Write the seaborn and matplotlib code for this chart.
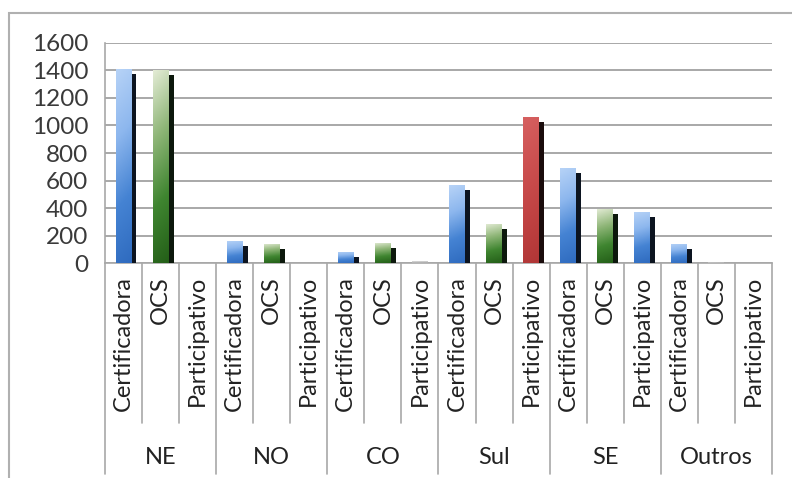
import numpy as np
import pandas as pd
import matplotlib
matplotlib.use("Agg")
import matplotlib.pyplot as plt
import seaborn as sns
from matplotlib import patheffects as pe
from matplotlib.colors import LinearSegmentedColormap
from matplotlib.patches import Rectangle
from matplotlib.transforms import blended_transform_factory

# Número de unidades por região e tipo de mecanismo de controle
regions = ["NE", "NO", "CO", "Sul", "SE", "Outros"]
types = ["Certificadora", "OCS", "Participativo"]
certificadora = [1410, 165, 84, 565, 693, 138]
ocs = [1400, 140, 150, 288, 397, 8]
participativo = [0, 0, 15, 1060, 372, 0]
yticks = [0, 200, 400, 600, 800, 1000, 1200, 1400, 1600]
# colour of each bar, region by region (Certificadora, OCS, Participativo)
bar_shades = ["azul", "verde", "cinza",
              "azul", "verde", "cinza",
              "azul", "verde", "cinza",
              "azul", "verde", "vermelho",
              "azul", "verde", "azul",
              "azul", "cinza", "cinza"]

rows = []
for i, reg in enumerate(regions):
    for t, vals in zip(types, [certificadora, ocs, participativo]):
        rows.append({"slot": f"{reg}-{t}", "regiao": reg, "tipo": t, "valor": vals[i]})
df = pd.DataFrame(rows)
df["cor"] = bar_shades

sns.set_theme(style="white")
plt.rcParams["font.family"] = ["Lato", "DejaVu Sans"]

W, H = 792, 478
fig = plt.figure(figsize=(W / 100, H / 100), dpi=100)
ax_left, ax_right, ax_bottom, ax_top = 105, 772, 263.3, 42.7
ax = fig.add_axes([ax_left / W, 1 - ax_bottom / H,
                   (ax_right - ax_left) / W, (ax_bottom - ax_top) / H])

base = {"azul": "#4a86d6", "verde": "#3c7f2c", "vermelho": "#c0403f", "cinza": "#c8c8c8"}
sns.barplot(data=df, x="slot", y="valor", hue="cor", order=list(df["slot"]),
            palette=base, dodge=False, width=0.43, ax=ax, legend=False,
            linewidth=0, saturation=1, zorder=3)

# vertical gradient for each colour
gradients = {
    "azul": LinearSegmentedColormap.from_list(
        "azul", ["#2f6bbf", "#4583d3", "#8db7ee", "#b7d3f7"]),
    "verde": LinearSegmentedColormap.from_list(
        "verde", ["#245f18", "#3f8530", "#8fb678", "#e4ecd6"]),
    "vermelho": LinearSegmentedColormap.from_list(
        "vermelho", ["#b03636", "#c04242", "#cc5050", "#d66060"]),
    "cinza": LinearSegmentedColormap.from_list(
        "cinza", ["#a0a0a0", "#c0c0c0", "#dcdcdc", "#ececec"]),
}
shadow_colors = {"azul": "#0c1420", "verde": "#0c180c", "vermelho": "#1a0c0c",
                 "cinza": "#9a9a9a"}

for bar in ax.patches:
    h = bar.get_height()
    if h <= 0:
        continue
    idx = int(round(bar.get_x() + bar.get_width() / 2))
    cor = df.iloc[idx]["cor"]
    bar.set_path_effects([
        pe.SimplePatchShadow(offset=(3.6, -3.6), shadow_rgbFace=shadow_colors[cor],
                             alpha=1.0),
        pe.Normal()])
    x0 = bar.get_x()
    x1 = x0 + bar.get_width()
    v = np.linspace(0, 1, 128)[:, None]
    u = np.linspace(0, 1, 16)[None, :]
    grad = np.clip(v * 0.92 + (1 - u) * 0.08, 0, 1)
    im = ax.imshow(grad[::-1], cmap=gradients[cor], vmin=0, vmax=1,
                   extent=(x0, x1, 0, h), aspect="auto", zorder=3.5,
                   interpolation="bilinear")
    im.set_clip_path(bar)

ax.set_xlim(-0.5, len(df) - 0.5)
ax.set_ylim(0, 1600)
ax.set_yticks(yticks)
ax.set_yticklabels([str(t) for t in yticks])
ax.yaxis.grid(True, color="#a8a8a8", linewidth=1.4)
ax.set_axisbelow(True)
ax.set_xlabel("")
ax.set_ylabel("")

for side in ["top", "right"]:
    ax.spines[side].set_visible(False)
ax.spines["left"].set_color("#a8a8a8")
ax.spines["bottom"].set_color("#a8a8a8")
ax.spines["left"].set_linewidth(1.2)
ax.spines["bottom"].set_linewidth(1.2)

ax.tick_params(axis="y", length=5, width=1.2, color="#a8a8a8", direction="out",
               pad=7, labelsize=17.5, labelcolor="#3a3a3a")
ax.set_xticks(range(len(df)))
ax.set_xticklabels(df["tipo"], rotation=90, fontsize=17, color="#222222")
ax.tick_params(axis="x", length=0, pad=9)

# separators between categories and between regions
trans = blended_transform_factory(ax.transData, ax.transAxes)
axh = ax_bottom - ax_top
inner_end = -(423 - ax_bottom) / axh
group_end = -(474 - ax_bottom) / axh
for k in range(len(df) + 1):
    xb = k - 0.5
    yb = group_end if k % 3 == 0 else inner_end
    ax.plot([xb, xb], [0, yb], transform=trans, color="#a8a8a8", lw=1.2,
            clip_on=False, zorder=1)

label_y = -(457 - ax_bottom) / axh
for g, reg in enumerate(regions):
    ax.text(3 * g + 1, label_y, reg, transform=trans, ha="center", va="center",
            fontsize=17, color="#222222")

# chart frame
fig.patches.append(Rectangle((8.5 / W, -0.1), 1.2, 1.1 - 13 / H,
                             transform=fig.transFigure, fill=False,
                             edgecolor="#b0b0b0", linewidth=1.5))

fig.savefig("out.png", dpi=100, facecolor="white")
